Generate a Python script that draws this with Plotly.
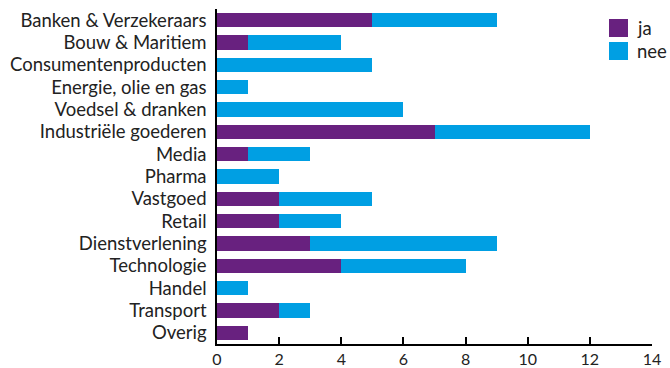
import plotly.graph_objects as go

# Sectors, listed top to bottom
sectors = [
    "Banken & Verzekeraars", "Bouw & Maritiem", "Consumentenproducten",
    "Energie, olie en gas", "Voedsel & dranken", "Industriële goederen",
    "Media", "Pharma", "Vastgoed", "Retail", "Dienstverlening",
    "Technologie", "Handel", "Transport", "Overig",
]
ja = [5, 1, 0, 0, 0, 7, 1, 0, 2, 2, 3, 4, 0, 2, 1]
nee = [4, 3, 5, 1, 6, 5, 2, 2, 3, 2, 6, 4, 1, 1, 0]
series_names = ["ja", "nee"]
colors = ["#68217f", "#009fe3"]
x_ticks = [0, 2, 4, 6, 8, 10, 12, 14]

font = "Lato, 'Open Sans', sans-serif"
fsize = 18.5

fig = go.Figure()
for name, vals, col in zip(series_names, [ja, nee], colors):
    fig.add_trace(go.Bar(
        y=sectors, x=vals, name=name, orientation="h",
        marker=dict(color=col, line=dict(width=0)),
        showlegend=False,
    ))

fig.update_layout(
    barmode="stack",
    bargap=0.36,
    width=670, height=368,
    margin=dict(l=217, r=18, t=9, b=24, autoexpand=False),
    paper_bgcolor="white", plot_bgcolor="white",
    font=dict(family=font, size=fsize, color="#222222"),
    xaxis=dict(
        range=[0, 14], tickvals=x_ticks, ticks="inside", ticklen=7,
        tickwidth=2, tickcolor="black", showline=True, linecolor="black",
        linewidth=2, showgrid=False, zeroline=False, automargin=False,
        tickfont=dict(size=16, color="#222222"),
    ),
    yaxis=dict(
        categoryorder="array", categoryarray=sectors[::-1],
        showline=True, linecolor="black", linewidth=2, ticks="",
        showgrid=False, automargin=False, ticksuffix=" ",
        tickfont=dict(size=fsize, color="#222222"),
    ),
)

# Legend drawn as colour swatches with labels
for i, (name, col) in enumerate(zip(series_names, colors)):
    y0 = 19 + i * 23
    fig.add_shape(type="rect", xref="paper", yref="paper",
                  x0=(609 - 217) / 435, x1=(628 - 217) / 435,
                  y0=1 - (y0 + 18 - 9) / 335, y1=1 - (y0 - 9) / 335,
                  fillcolor=col, line=dict(width=0))
    fig.add_annotation(xref="paper", yref="paper",
                       x=(635 - 217) / 435, y=1 - (y0 + 9 - 9) / 335,
                       text=name, showarrow=False, xanchor="left",
                       yanchor="middle", font=dict(size=fsize, color="#222222"))

fig.write_html("out.html")
